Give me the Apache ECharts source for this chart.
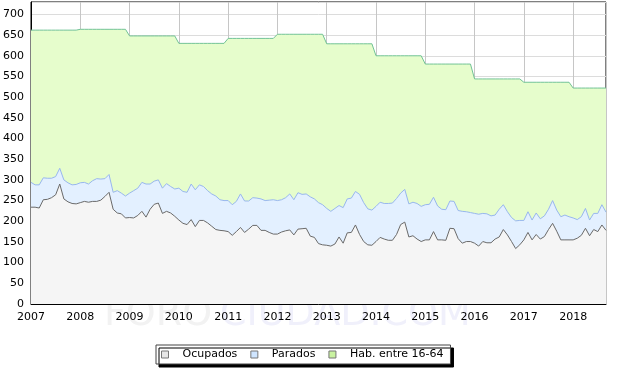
<!DOCTYPE html>
<html>
<head>
<meta charset="utf-8">
<script src="https://cdn.jsdelivr.net/npm/echarts@6/dist/echarts.min.js"></script>
<style>
html,body{margin:0;padding:0;background:#fff;}
#chart{width:617px;height:380px;}
</style>
</head>
<body>
<div id="chart"></div>
<script>
// Monthly data, Jan 2007 .. Sep 2018
var startYear = 2007;
var yearLabels = [2007,2008,2009,2010,2011,2012,2013,2014,2015,2016,2017,2018];
var habitantesPorAnio = [662,664,648,630,642,652,629,600,580,544,536,522];
var ocupados = [
234,234,232,252,253,257,264,290,254,247,243,242,
245,248,246,248,248,251,260,270,229,220,218,208,
209,208,214,224,210,229,241,244,219,224,220,212,
203,195,192,204,187,202,202,196,188,180,178,177,
175,166,175,185,173,181,190,190,178,178,173,169,
169,174,177,179,167,181,182,183,164,161,146,143,
142,140,145,162,147,172,173,191,168,151,143,142,
151,161,157,154,154,168,192,198,162,165,157,151,
155,155,175,155,155,154,183,182,158,147,151,151,
147,140,151,148,148,157,162,180,167,151,134,143,
155,173,155,168,157,163,180,195,176,155,155,155,
155,159,166,183,165,180,175,191,178
];
var ocupadosMasParados = [
294,288,288,305,304,304,308,328,300,293,288,289,
293,294,290,298,303,302,303,313,270,274,268,261,
268,274,280,294,290,290,297,300,280,291,284,278,
280,272,270,290,276,288,284,274,266,261,252,250,
250,240,248,266,249,249,257,256,254,250,251,252,
250,252,257,266,252,269,265,266,259,254,245,240,
231,224,231,238,233,254,256,272,265,245,230,227,
236,246,243,243,244,255,268,277,242,246,243,236,
240,241,258,237,229,228,249,248,226,224,223,221,
219,217,219,218,213,215,229,240,223,209,201,202,
202,223,203,220,206,213,229,250,227,211,215,211,
208,204,211,231,203,219,219,240,222
];

var habitantes = ocupados.map(function(_, i){ return habitantesPorAnio[Math.floor(i/12)]; });
function pairs(arr){ return arr.map(function(v,i){ return [i, v]; }); }
var lastIndex = ocupados.length - 1;

var chart = echarts.init(document.getElementById('chart'), null, {renderer:'canvas'});
var font = 'DejaVu Sans';
chart.setOption({
  animation: false,
  backgroundColor: '#fff',
  textStyle: {fontFamily: font},
  grid: {left: 31, right: 11, top: 2, bottom: 76, show: true, borderColor: '#000', borderWidth: 1, backgroundColor: 'transparent'},
  graphic: [
    {type:'text', left: 104, top: 296, z: -10, silent: true,
     style:{text:'FORO', font:'38px "DejaVu Sans"', fill:'#f2f2f2'}},
    {type:'text', left: 220, top: 296, z: -10, silent: true,
     style:{text:'CIUDAD.COM', font:'38px "DejaVu Sans"', fill:'#f0f0fb'}}
  ],
  xAxis: {
    type: 'value', min: 0, max: lastIndex, interval: 12,
    axisLine: {show: true, lineStyle: {color: '#000', width: 1}},
    axisTick: {show: false},
    axisLabel: {color: '#000', fontSize: 11, fontFamily: font, margin: 8,
      showMaxLabel: false,
      formatter: function(v){ return (v % 12 === 0) ? String(yearLabels[v/12]) : ''; }},
    splitLine: {show: true, lineStyle: {color: '#c6c6c6', width: 1}}
  },
  yAxis: {
    type: 'value', min: 0, max: 730, interval: 50,
    axisLine: {show: true, lineStyle: {color: '#000', width: 1}},
    axisTick: {show: false},
    axisLabel: {color: '#000', fontSize: 11, fontFamily: font, margin: 7,
      showMaxLabel: false,
      formatter: function(v){ return (v % 50 === 0) ? String(v) : ''; }},
    splitLine: {show: true, lineStyle: {color: '#dcdcdc', width: 1}}
  },
  legend: {
    left: 156, top: 345,
    orient: 'horizontal',
    icon: 'rect',
    itemWidth: 7, itemHeight: 7, itemGap: 13,
    padding: [4, 7, 4, 5],
    backgroundColor: '#fff',
    borderColor: '#444', borderWidth: 1,
    shadowColor: '#000', shadowBlur: 0, shadowOffsetX: 3, shadowOffsetY: 3,
    textStyle: {color: '#000', fontSize: 11, fontFamily: font, padding: [0,0,0,9]},
    data: [
      {name: 'Ocupados', itemStyle: {color: '#e6e6e6', borderColor: '#777', borderWidth: 1}},
      {name: 'Parados', itemStyle: {color: '#cfe5ff', borderColor: '#777', borderWidth: 1}},
      {name: 'Hab. entre 16-64', itemStyle: {color: '#c9f2a0', borderColor: '#777', borderWidth: 1}}
    ]
  },
  series: [
    {name: 'Hab. entre 16-64', type: 'line', data: pairs(habitantes), showSymbol: false, symbol: 'none',
     lineStyle: {color: '#72c396', width: 1}, itemStyle: {color: '#72c396'},
     areaStyle: {color: '#e6fdcc', opacity: 1}, z: 1},
    {name: 'Parados', type: 'line', data: pairs(ocupadosMasParados), showSymbol: false, symbol: 'none',
     lineStyle: {color: '#98b7ee', width: 1}, itemStyle: {color: '#98b7ee'},
     areaStyle: {color: '#e3f0ff', opacity: 1}, z: 2},
    {name: 'Ocupados', type: 'line', data: pairs(ocupados), showSymbol: false, symbol: 'none',
     lineStyle: {color: '#6a6a6a', width: 1}, itemStyle: {color: '#6a6a6a'},
     areaStyle: {color: '#f5f5f5', opacity: 1}, z: 3}
  ]
});
</script>
</body>
</html>
